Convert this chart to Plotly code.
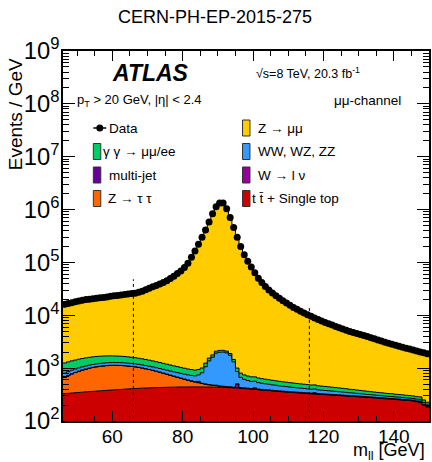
import plotly.graph_objects as go
import numpy as np

# ---------------- data (1 GeV bins, 46-150 GeV) ----------------
mass_low = list(range(46, 150))

data = [16100, 16700, 17300, 18000, 18700, 19300, 19800, 20200, 20600, 21000,
        21400, 21800, 22300, 22800, 23300, 23700, 24200, 24700, 25200, 25700,
        26200, 27200, 28600, 30500, 32500, 34500, 36800, 39000, 41500, 45000,
        49500, 55000, 61500, 69000, 80000, 97000, 125000, 165000, 220000, 300000,
        410000, 580000, 830000, 1130000, 1330000, 1330000, 1040000, 710000, 460000, 300000,
        200000, 140000, 105000, 82000, 64000, 50000, 41500, 35000, 30000, 26500,
        23500, 21000, 18900, 17000, 15400, 14100, 13000, 11900, 11000, 10200,
        9550, 8900, 8300, 7800, 7300, 6880, 6520, 6150, 5800, 5480,
        5200, 4960, 4740, 4540, 4350, 4150, 3950, 3760, 3580, 3410,
        3250, 3100, 2960, 2830, 2700, 2590, 2480, 2380, 2290, 2200,
        2110, 2030, 1950, 1870]

zmumu = [14850, 15390, 15930, 16580, 17220, 17780, 18240, 18600, 18970, 19340,
         19720, 20100, 20600, 21090, 21600, 22000, 22520, 23040, 23570, 24090,
         24620, 25660, 27100, 29040, 31080, 33130, 35480, 37720, 40270, 43810,
         48350, 53890, 60430, 67970, 79000, 96040, 124100, 164100, 219100, 299000,
         408800, 578500, 828200, 1128000, 1328000, 1328000, 1038000, 708100, 458500, 299000,
         199200, 139300, 104300, 81310, 63320, 49350, 40870, 34380, 29400, 25910,
         22920, 20440, 18350, 16460, 14870, 13580, 12490, 11400, 10500, 9710,
         9070, 8420, 7840, 7340, 6850, 6440, 6080, 5720, 5380, 5070,
         4790, 4560, 4350, 4150, 3970, 3780, 3590, 3400, 3230, 3060,
         2910, 2760, 2630, 2500, 2380, 2270, 2170, 2070, 1990, 1900,
         1820, 1740, 1700, 1640]

gamgam = [450, 455, 460, 462, 464, 465, 465, 464, 462, 458,
          454, 449, 443, 436, 428, 420, 411, 402, 392, 382,
          372, 361, 350, 339, 328, 317, 306, 295, 284, 274,
          264, 254, 245, 236, 227, 219, 211, 204, 197, 190,
          184, 178, 172, 167, 162, 157, 152, 148, 144, 140,
          136, 132, 128, 124, 121, 118, 115, 112, 109, 106,
          103, 100, 97, 95, 92, 90, 88, 86, 84, 82,
          80, 78, 76, 74, 72, 70, 68, 66, 64, 62,
          60, 57, 55, 53, 51, 49, 47, 45, 43, 41,
          40, 39, 38, 37, 36, 35, 34, 33, 32, 31,
          30, 29, 25, 18]

diboson = [125, 127, 129, 131, 133, 134, 135, 136, 137, 138,
           139, 140, 140, 141, 141, 141, 142, 142, 142, 142,
           142, 142, 142, 142, 142, 142, 142, 142, 142, 142,
           142, 143, 144, 145, 146, 148, 152, 160, 185, 300,
           560, 880, 1130, 1450, 1540, 1560, 1500, 1300, 880, 360,
           240, 190, 165, 150, 140, 130, 122, 115, 108, 102,
           97, 92, 88, 84, 80, 77, 74, 71, 68, 65,
           62, 60, 58, 56, 54, 52, 50, 48, 46, 44,
           42, 40, 38, 36, 34, 32, 30, 29, 28, 27,
           26, 25, 24, 23, 22, 22, 21, 20, 20, 19,
           19, 18, 17, 15]

multijet = [4, 4, 4, 4, 4, 4, 4, 4, 4, 4,
            4, 4, 4, 4, 4, 4, 4, 4, 4, 4,
            4, 4, 4, 4, 4, 4, 4, 4, 4, 4,
            4, 4, 4, 4, 4, 4, 4, 4, 30, 4,
            4, 4, 4, 4, 4, 4, 4, 4, 4, 4,
            4, 4, 4, 4, 4, 4, 4, 4, 4, 4,
            4, 4, 4, 4, 4, 4, 4, 4, 4, 4,
            4, 15, 4, 4, 4, 4, 4, 4, 4, 4,
            4, 4, 4, 4, 4, 4, 4, 4, 4, 4,
            4, 4, 4, 4, 4, 4, 4, 4, 4, 4,
            4, 4, 4, 4]

wlnu = [3, 3, 3, 3, 3, 3, 3, 3, 3, 3,
        3, 3, 3, 3, 3, 3, 3, 3, 3, 3,
        3, 3, 3, 3, 3, 3, 3, 3, 3, 3,
        3, 3, 3, 3, 3, 3, 3, 3, 3, 3,
        3, 3, 3, 10, 3, 3, 3, 3, 3, 75,
        3, 3, 3, 3, 20, 3, 3, 3, 3, 3,
        3, 3, 3, 3, 3, 3, 3, 3, 3, 3,
        3, 3, 3, 3, 3, 3, 3, 3, 3, 3,
        3, 3, 3, 3, 3, 3, 3, 3, 3, 3,
        3, 3, 3, 3, 3, 3, 3, 3, 3, 3,
        3, 12, 3, 3]

ztautau = [340, 390, 440, 480, 525, 565, 600, 635, 665, 690,
           710, 725, 735, 740, 740, 735, 725, 710, 690, 668,
           645, 615, 585, 550, 515, 480, 442, 405, 368, 332,
           298, 265, 233, 203, 176, 150, 127, 106, 87, 70,
           56, 44, 34, 26, 20, 16, 12, 10, 8, 7,
           7, 6, 6, 5, 5, 5, 4, 4, 4, 4,
           4, 3, 3, 3, 3, 3, 3, 3, 3, 3,
           3, 2, 2, 2, 2, 2, 2, 2, 2, 2,
           2, 2, 2, 2, 2, 2, 2, 2, 2, 2,
           2, 1, 1, 1, 1, 1, 1, 1, 1, 1,
           1, 1, 1, 1]

top = [330, 334, 338, 343, 347, 351, 357, 360, 364, 368,
       372, 376, 380, 384, 388, 390, 396, 400, 404, 408,
       412, 415, 418, 421, 424, 426, 428, 430, 432, 434,
       436, 437, 438, 441, 440, 441, 442, 442, 442, 441,
       440, 439, 438, 436, 434, 432, 429, 426, 422, 418,
       414, 410, 405, 400, 395, 390, 385, 380, 377, 370,
       366, 361, 357, 353, 349, 345, 341, 338, 334, 331,
       327, 324, 321, 318, 315, 312, 309, 306, 303, 300,
       297, 292, 291, 288, 285, 282, 279, 276, 273, 270,
       267, 264, 261, 260, 255, 252, 249, 246, 243, 240,
       232, 222, 200, 185]

window_edges = [66, 116]
window_tops = [48000, 13700]

# stack order bottom -> top
components = [
    ("t t\u0304 + Single top", top, "#CC0000"),
    ("Z \u2192 \u03c4 \u03c4", ztautau, "#FF6600"),
    ("W \u2192 l \u03bd", wlnu, "#990099"),
    ("multi-jet", multijet, "#660099"),
    ("WW, WZ, ZZ", diboson, "#3399FF"),
    ("\u03b3 \u03b3 \u2192 \u03bc\u03bc/ee", gamgam, "#00CC66"),
    ("Z \u2192 \u03bc\u03bc", zmumu, "#FFCC00"),
]

edges = mass_low + [mass_low[-1] + 1]
centers = [m + 0.5 for m in mass_low]

fig = go.Figure()
# invisible baseline (below the axis range) for the first fill
fig.add_trace(go.Scatter(x=edges, y=[1.0] * len(edges), mode="lines",
                         line=dict(width=0), line_shape="hv",
                         hoverinfo="skip", showlegend=False))
cum = np.cumsum(np.array([c[1] for c in components], dtype=float), axis=0)
for k, (name, vals, col) in enumerate(components):
    yk = list(cum[k]) + [cum[k][-1]]
    fig.add_trace(go.Scatter(x=edges, y=yk, mode="lines", line_shape="hv",
                             line=dict(color="black", width=1),
                             fill="tonexty", fillcolor=col, name=name,
                             showlegend=False))

fig.add_trace(go.Scatter(x=centers, y=data, mode="markers",
                         marker=dict(color="black", size=7), name="Data",
                         showlegend=False))

for xe, yt in zip(window_edges, window_tops):
    fig.add_trace(go.Scatter(x=[xe, xe], y=[50, yt], mode="lines",
                             line=dict(color="black", width=1, dash="dot"),
                             showlegend=False, hoverinfo="skip"))

# ---------------- layout ----------------
L, R, T, B, W, H = 63, 1, 51, 41, 432, 462
PW, PH = W - L - R, H - T - B


def px(x):
    return (x - L) / PW


def py(y):
    return (H - B - y) / PH


FONT = "Liberation Sans, Arial, Helvetica, sans-serif"

fig.update_layout(
    width=W, height=H, margin=dict(l=L, r=R, t=T, b=B),
    paper_bgcolor="white", plot_bgcolor="white", showlegend=False,
    font=dict(family=FONT, color="black"),
)
fig.update_xaxes(
    range=[46, 150], tick0=0, dtick=20, ticks="inside", ticklen=10,
    tickwidth=1, tickcolor="black", ticklabelstandoff=-3,
    minor=dict(tick0=0, dtick=5, ticks="inside", ticklen=5, tickwidth=1,
               tickcolor="black", showgrid=False),
    showline=True, linecolor="black", linewidth=1.5, mirror="allticks",
    showgrid=False, zeroline=False, tickfont=dict(size=19, family=FONT),
)
fig.update_yaxes(
    type="log", range=[2, 9], dtick=1, exponentformat="power",
    showexponent="all", ticks="inside", ticklen=12, tickwidth=1,
    tickcolor="black", ticklabelstandoff=-2,
    minor=dict(dtick="D1", ticks="inside", ticklen=6, tickwidth=1,
               tickcolor="black", showgrid=False),
    showline=True, linecolor="black", linewidth=1.5, mirror="allticks",
    showgrid=False, zeroline=False, tickfont=dict(size=19, family=FONT),
)

ann = []
ann.append(dict(text="CERN-PH-EP-2015-275", xref="paper", yref="paper",
                x=px(216), y=py(17), xanchor="center", yanchor="middle",
                showarrow=False, font=dict(size=18)))
ann.append(dict(text="Events / GeV", xref="paper", yref="paper",
                x=px(15), y=py(56), xanchor="center", yanchor="top",
                textangle=-90, showarrow=False, font=dict(size=19)))
ann.append(dict(text="m<sub>ll</sub> [GeV]", xref="paper", yref="paper",
                x=px(429), y=py(451), xanchor="right", yanchor="middle",
                showarrow=False, font=dict(size=18)))
ann.append(dict(text="<b><i>ATLAS</i></b>", xref="paper", yref="paper",
                x=px(151), y=py(73), xanchor="center", yanchor="middle",
                showarrow=False, font=dict(size=23)))
ann.append(dict(text="\u221as=8 TeV, 20.3 fb<sup>-1</sup>", xref="paper",
                yref="paper", x=px(255), y=py(73), xanchor="left",
                yanchor="middle", showarrow=False, font=dict(size=12.5)))
ann.append(dict(text="p<sub>T</sub> &gt; 20 GeV, |\u03b7| &lt; 2.4",
                xref="paper", yref="paper", x=px(75), y=py(101),
                xanchor="left", yanchor="middle", showarrow=False,
                font=dict(size=13)))
ann.append(dict(text="\u03bc\u03bc-channel", xref="paper", yref="paper",
                x=px(405), y=py(101), xanchor="right", yanchor="middle",
                showarrow=False, font=dict(size=13.5)))

shapes = []
rows = [128, 151.5, 175, 198.5]
# legend entries: (label, colour, column, row, text x)
legend_items = [
    ("Data", None, 0, 0, 107),
    ("\u03b3 \u03b3 \u2192 \u03bc\u03bc/ee", "#00CC66", 0, 1, 101),
    ("multi-jet", "#660099", 0, 2, 107),
    ("Z \u2192 \u03c4 \u03c4", "#FF6600", 0, 3, 106),
    ("Z \u2192 \u03bc\u03bc", "#FFCC00", 1, 0, 257),
    ("WW, WZ, ZZ", "#3399FF", 1, 1, 257),
    ("W \u2192 l \u03bd", "#990099", 1, 2, 257),
    ("t t\u0304 + Single top", "#CC0000", 1, 3, 251),
]
box_x0 = [93.5, 243.5]
for label, col, c, r, tx in legend_items:
    yc = rows[r]
    if col is None:
        shapes.append(dict(type="line", xref="paper", yref="paper",
                           x0=px(93.5), x1=px(106.5), y0=py(yc), y1=py(yc),
                           line=dict(color="black", width=1.5)))
        shapes.append(dict(type="circle", xref="paper", yref="paper",
                           x0=px(96.5), x1=px(103.5), y0=py(yc - 3.5),
                           y1=py(yc + 3.5), fillcolor="black",
                           line=dict(color="black", width=0)))
    else:
        shapes.append(dict(type="rect", xref="paper", yref="paper",
                           x0=px(box_x0[c]), x1=px(box_x0[c] + 7.5),
                           y0=py(yc - 8), y1=py(yc + 8), fillcolor=col,
                           line=dict(color="#333333", width=1)))
    ann.append(dict(text=label, xref="paper", yref="paper", x=px(tx),
                    y=py(yc), xanchor="left", yanchor="middle",
                    showarrow=False, font=dict(size=13.5)))

fig.update_layout(annotations=ann, shapes=shapes)
fig.write_html("out.html")
